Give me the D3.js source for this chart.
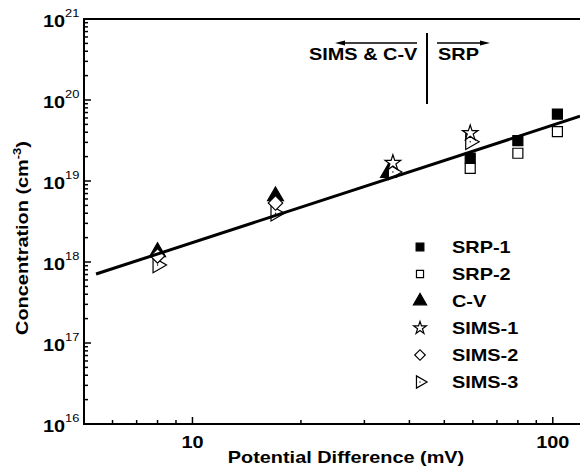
<!DOCTYPE html>
<html><head><meta charset="utf-8">
<script src="https://cdn.jsdelivr.net/npm/d3@7"></script>
<style>
body{margin:0;background:#fff}
text{font-family:Arial,"Liberation Sans",Helvetica,sans-serif;font-weight:bold;fill:#000}
</style></head>
<body><svg id="c" width="580" height="468"></svg>
<script>
// ---- data ----
const seriesNames = ["SRP-1", "SRP-2", "C-V", "SIMS-1", "SIMS-2", "SIMS-3"];
const voltSRP1 = [59, 80, 103];
const concSRP1 = [1.92e19, 3.15e19, 6.7e19];
const voltSRP2 = [59, 80, 103];
const concSRP2 = [1.43e19, 2.2e19, 4.07e19];
const voltCV = [8, 17, 35];
const concCV = [1.33e18, 6.5e18, 1.26e19];
const voltSIMS1 = [36, 59];
const concSIMS1 = [1.67e19, 3.9e19];
const voltSIMS2 = [8, 17];
const concSIMS2 = [1.19e18, 5.35e18];
const voltSIMS3 = [8, 17, 36, 59];
const concSIMS3 = [0.92e18, 4.0e18, 1.29e19, 3.05e19];
const fitVolt = [5.4, 119];
const fitConc = [7.1e17, 6.3e19];
const xMajorTicks = [10, 100];
const xTickLabels = ["10", "100"];
const yMajorExps = [16, 17, 18, 19, 20, 21];

// ---- layout ----
const svg = d3.select("#c");
const L = 84, R = 580, T = 19, B = 424;
const SX = 1.17; // horizontal stretch of the original lettering
const x = d3.scaleLog().domain([5, 119]).range([L, R]);
const y = d3.scaleLog().domain([1e16, 1e21]).range([B, T]);

const g = svg.append("g");

function txt(parent, px, py, anchor, size, rot) {
  return parent.append("text")
    .attr("transform", `translate(${px},${py})` + (rot ? ` rotate(${rot})` : "") + ` scale(${SX},1)`)
    .attr("text-anchor", anchor || "start").attr("font-size", size);
}

// minor ticks
const xMinor = [];
[1, 10].forEach(d => { for (let k = 2; k <= 9; k++) { const v = k * d; if (v >= 5 && v <= 119 && v !== 10) xMinor.push(v); } });
const yMinor = [];
for (let e = 16; e < 21; e++) for (let k = 2; k <= 9; k++) yMinor.push(k * Math.pow(10, e));

g.selectAll(".xmin").data(xMinor).enter().append("line")
  .attr("x1", d => x(d)).attr("x2", d => x(d)).attr("y1", B).attr("y2", B - 4)
  .attr("stroke", "#000").attr("stroke-width", 1.5);
g.selectAll(".xmaj").data(xMajorTicks).enter().append("line")
  .attr("x1", d => x(d)).attr("x2", d => x(d)).attr("y1", B).attr("y2", B - 7)
  .attr("stroke", "#000").attr("stroke-width", 1.5);
g.selectAll(".ymin").data(yMinor).enter().append("line")
  .attr("x1", L).attr("x2", L + 4).attr("y1", d => y(d)).attr("y2", d => y(d))
  .attr("stroke", "#000").attr("stroke-width", 1.5);
g.selectAll(".ymaj").data(yMajorExps).enter().append("line")
  .attr("x1", L).attr("x2", L + 7).attr("y1", d => y(Math.pow(10, d))).attr("y2", d => y(Math.pow(10, d)))
  .attr("stroke", "#000").attr("stroke-width", 1.5);

// frame
g.append("line").attr("x1", L).attr("x2", L).attr("y1", T - 1).attr("y2", B + 1).attr("stroke", "#000").attr("stroke-width", 2);
g.append("line").attr("x1", L - 1).attr("x2", R).attr("y1", B).attr("y2", B).attr("stroke", "#000").attr("stroke-width", 2);
g.append("line").attr("x1", L - 1).attr("x2", R).attr("y1", T).attr("y2", T).attr("stroke", "#000").attr("stroke-width", 2);

// tick labels
xMajorTicks.forEach((d, i) => txt(g, x(d), 448, "middle", 17).text(xTickLabels[i]));
yMajorExps.forEach(d => {
  const t = txt(g, 43, y(Math.pow(10, d)) + 8, "start", 17);
  t.append("tspan").text("10");
  t.append("tspan").attr("dy", -10).attr("font-size", 11).attr("font-weight", "normal").text(d);
});

// axis titles
txt(g, 346, 463, "middle", 17).text("Potential Difference (mV)");
const yt = txt(g, 28, 238, "middle", 17, -90);
yt.append("tspan").text("Concentration (cm");
yt.append("tspan").attr("dy", -7).attr("font-size", 11).text("-3");
yt.append("tspan").attr("dy", 7).text(")");

// annotation
txt(g, 309, 60, "start", 17).text("SIMS & C-V");
txt(g, 438, 60, "start", 17).text("SRP");
g.append("line").attr("x1", 427).attr("x2", 427).attr("y1", 33).attr("y2", 104).attr("stroke", "#000").attr("stroke-width", 2);
g.append("line").attr("x1", 340).attr("x2", 417).attr("y1", 43).attr("y2", 43).attr("stroke", "#000").attr("stroke-width", 1.5);
g.append("path").attr("d", "M335,43 L345,40.5 L345,45.5 Z").attr("fill", "#000");
g.append("line").attr("x1", 437).attr("x2", 484).attr("y1", 43).attr("y2", 43).attr("stroke", "#000").attr("stroke-width", 1.5);
g.append("path").attr("d", "M490,43 L480,40.5 L480,45.5 Z").attr("fill", "#000");

// symbols
function sym(type, size) { return d3.symbol().type(type).size(size)(); }
const markerDefs = {
  "SRP-1": {path: s => sym(d3.symbolSquare, s), fill: "#000", rot: 0},
  "SRP-2": {path: s => sym(d3.symbolSquare, s), fill: "#fff", rot: 0},
  "C-V": {path: s => sym(d3.symbolTriangle, s), fill: "#000", rot: 0},
  "SIMS-1": {path: s => sym(d3.symbolStar, s), fill: "#fff", rot: 0},
  "SIMS-2": {path: s => sym(d3.symbolSquare, s), fill: "#fff", rot: 45},
  "SIMS-3": {path: s => sym(d3.symbolTriangle, s), fill: "#fff", rot: 90, dot: true}
};
const plotSizes = {"SRP-1": 100, "SRP-2": 100, "C-V": 110, "SIMS-1": 75, "SIMS-2": 105, "SIMS-3": 105};
const legendSizes = {"SRP-1": 60, "SRP-2": 50, "C-V": 75, "SIMS-1": 50, "SIMS-2": 55, "SIMS-3": 65};

function drawMarker(parent, name, cx, cy, size) {
  const m = markerDefs[name];
  const gg = parent.append("g").attr("transform", `translate(${cx},${cy}) rotate(${m.rot})`);
  gg.append("path").attr("d", m.path(size)).attr("fill", m.fill).attr("stroke", "#000").attr("stroke-width", 1.2);
  if (m.dot) gg.append("circle").attr("r", 0.7).attr("fill", "#000");
}

const seriesData = [
  ["C-V", voltCV, concCV],
  ["SRP-1", voltSRP1, concSRP1],
  ["SRP-2", voltSRP2, concSRP2],
  ["SIMS-3", voltSIMS3, concSIMS3],
  ["SIMS-2", voltSIMS2, concSIMS2],
  ["SIMS-1", voltSIMS1, concSIMS1]
];
const pts = g.append("g");
seriesData.forEach(([name, xs, ys]) => {
  xs.forEach((v, i) => drawMarker(pts, name, x(v), y(ys[i]), plotSizes[name]));
});

// fit line
const fit = fitVolt.map((v, i) => [v, fitConc[i]]);
g.append("path").attr("d", d3.line().x(d => x(d[0])).y(d => y(d[1]))(fit))
  .attr("fill", "none").attr("stroke", "#000").attr("stroke-width", 3);

// legend
const leg = g.append("g");
seriesNames.forEach((name, i) => {
  const cy = 247 + i * 27;
  drawMarker(leg, name, 420, cy, legendSizes[name]);
  txt(leg, 452, cy + 6, "start", 17).text(name);
});
</script></body></html>
